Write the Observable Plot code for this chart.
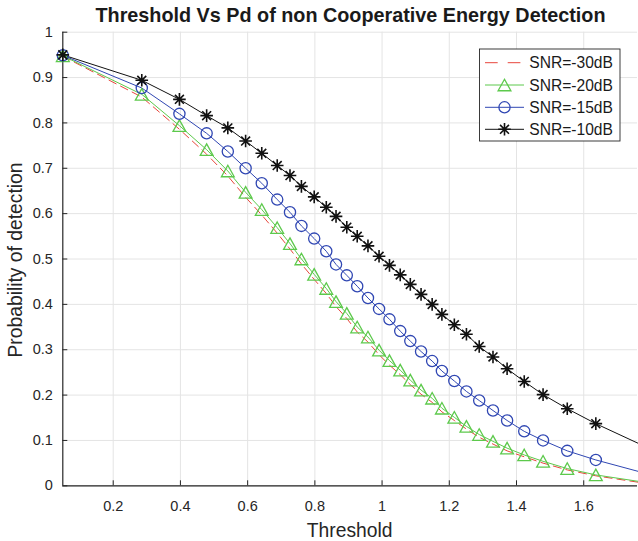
<!DOCTYPE html>
<html>
<head>
<meta charset="utf-8">
<script src="https://cdn.jsdelivr.net/npm/d3@7"></script>
<script src="https://cdn.jsdelivr.net/npm/@observablehq/plot@0.6"></script>
<style>
  html, body { margin: 0; padding: 0; background: white; }
  #chart svg { display: block; }
</style>
</head>
<body>
<div id="chart"></div>
<script>
// ---- data ----
const titleText = "Threshold Vs Pd of non Cooperative Energy Detection";
const xLabel = "Threshold";
const yLabel = "Probability of detection";

const thresholds = [0.05, 0.285, 0.397, 0.478, 0.541, 0.594, 0.642, 0.688, 0.726, 0.760, 0.798, 0.834, 0.863, 0.895, 0.926, 0.958, 0.991, 1.022, 1.054, 1.084, 1.116, 1.149, 1.178, 1.215, 1.251, 1.289, 1.330, 1.372, 1.423, 1.479, 1.551, 1.636, 1.761];

const pdSnr30 = [0.947, 0.857, 0.786, 0.731, 0.683, 0.636, 0.597, 0.557, 0.522, 0.489, 0.455, 0.424, 0.395, 0.369, 0.339, 0.317, 0.289, 0.266, 0.245, 0.223, 0.202, 0.184, 0.163, 0.144, 0.125, 0.107, 0.092, 0.077, 0.064, 0.050, 0.035, 0.022, 0.008];
const pdSnr20 = [0.948, 0.863, 0.794, 0.741, 0.694, 0.647, 0.609, 0.569, 0.534, 0.500, 0.466, 0.435, 0.406, 0.380, 0.350, 0.328, 0.299, 0.276, 0.255, 0.233, 0.211, 0.193, 0.171, 0.151, 0.131, 0.113, 0.098, 0.083, 0.068, 0.054, 0.038, 0.024, 0.010];
const pdSnr15 = [0.949, 0.877, 0.820, 0.777, 0.737, 0.700, 0.667, 0.631, 0.603, 0.573, 0.545, 0.517, 0.488, 0.464, 0.440, 0.414, 0.390, 0.367, 0.341, 0.319, 0.296, 0.275, 0.253, 0.231, 0.208, 0.188, 0.166, 0.144, 0.120, 0.100, 0.077, 0.057, 0.032];
const pdSnr10 = [0.950, 0.894, 0.852, 0.816, 0.789, 0.760, 0.733, 0.706, 0.684, 0.660, 0.637, 0.614, 0.594, 0.570, 0.550, 0.529, 0.506, 0.486, 0.465, 0.444, 0.422, 0.400, 0.378, 0.355, 0.334, 0.307, 0.284, 0.258, 0.230, 0.201, 0.170, 0.137, 0.094];

const seriesNames = ["SNR=-30dB", "SNR=-20dB", "SNR=-15dB", "SNR=-10dB"];
const seriesColors = ["#e8463c", "#5dc94c", "#3047b3", "#111111"];

const xDomain = [0.05, 1.76];
const yDomain = [0, 1];
const xTicks = [0.2, 0.4, 0.6, 0.8, 1.0, 1.2, 1.4, 1.6];
const xTickLabels = ["0.2", "0.4", "0.6", "0.8", "1", "1.2", "1.4", "1.6"];
const yTicks = [0, 0.1, 0.2, 0.3, 0.4, 0.5, 0.6, 0.7, 0.8, 0.9, 1.0];
const yTickLabels = ["0", "0.1", "0.2", "0.3", "0.4", "0.5", "0.6", "0.7", "0.8", "0.9", "1"];

// ---- build tables ----
const allSeries = [pdSnr30, pdSnr20, pdSnr15, pdSnr10];
const rows = [];
allSeries.forEach((vals, s) => {
  vals.forEach((v, i) => rows.push({series: seriesNames[s], x: thresholds[i], y: v, marker: i < thresholds.length - 1}));
});
const bySeries = name => rows.filter(d => d.series === name);
const markersOf = name => rows.filter(d => d.series === name && d.marker);

// custom symbols
const asterisk8 = {
  draw(ctx, size) {
    const r = Math.sqrt(size / Math.PI);
    const d = r * Math.SQRT1_2;
    ctx.moveTo(0, -r); ctx.lineTo(0, r);
    ctx.moveTo(-r, 0); ctx.lineTo(r, 0);
    ctx.moveTo(-d, -d); ctx.lineTo(d, d);
    ctx.moveTo(-d, d); ctx.lineTo(d, -d);
  }
};
const triangleUp = {
  draw(ctx, size) {
    const r = Math.sqrt(size / Math.PI);
    const h = r * 0.9;
    ctx.moveTo(0, -h); ctx.lineTo(r, h); ctx.lineTo(-r, h); ctx.closePath();
  }
};

const W = 638, H = 541;
const mL = 62.3, mR = 1, mT = 31.7, mB = 55.7;
const frameW = W - mL - mR, frameH = H - mT - mB;
const axisColor = "#262626";
const gridColor = "#e4e4e4";
const font = "'Liberation Sans', Arial, sans-serif";

const fmtX = d => xTickLabels[xTicks.findIndex(t => Math.abs(t - d) < 1e-9)];
const fmtY = d => yTickLabels[yTicks.findIndex(t => Math.abs(t - d) < 1e-9)];

const chart = Plot.plot({
  width: W, height: H,
  marginLeft: mL, marginRight: mR, marginTop: mT, marginBottom: mB,
  style: {fontFamily: font, fontSize: "14.5px", color: axisColor, background: "white", overflow: "visible"},
  x: {domain: xDomain},
  y: {domain: yDomain},
  marks: [
    Plot.gridX(xTicks, {stroke: gridColor, strokeOpacity: 1}),
    Plot.gridY(yTicks, {stroke: gridColor, strokeOpacity: 1}),
    Plot.ruleX([xDomain[0]], {stroke: axisColor, strokeWidth: 1.2}),
    Plot.ruleY([yDomain[0]], {stroke: axisColor, strokeWidth: 1.2}),
    Plot.tickX(xTicks, {x: d => d, insetTop: frameH - 5, stroke: axisColor}),
    Plot.tickY(yTicks, {y: d => d, insetRight: frameW - 5, stroke: axisColor}),
    Plot.axisX(xTicks, {tickSize: 0, tickPadding: 15, label: null, tickFormat: fmtX, fill: axisColor, fontSize: 14.5}),
    Plot.axisY(yTicks, {tickSize: 0, tickPadding: 10, label: null, tickFormat: fmtY, fill: axisColor, fontSize: 14.5}),
    // lines
    Plot.line(bySeries(seriesNames[0]), {x: "x", y: "y", stroke: seriesColors[0], strokeWidth: 1, strokeDasharray: "8,5"}),
    Plot.line(bySeries(seriesNames[1]), {x: "x", y: "y", stroke: seriesColors[1], strokeWidth: 1}),
    Plot.line(bySeries(seriesNames[2]), {x: "x", y: "y", stroke: seriesColors[2], strokeWidth: 1}),
    Plot.line(bySeries(seriesNames[3]), {x: "x", y: "y", stroke: seriesColors[3], strokeWidth: 1}),
    // markers
    Plot.dot(markersOf(seriesNames[1]), {x: "x", y: "y", symbol: triangleUp, r: 6.4, stroke: seriesColors[1], fill: "none", strokeWidth: 1.3}),
    Plot.dot(markersOf(seriesNames[2]), {x: "x", y: "y", symbol: "circle", r: 5.6, stroke: seriesColors[2], fill: "none", strokeWidth: 1.3}),
    Plot.dot(markersOf(seriesNames[3]), {x: "x", y: "y", symbol: asterisk8, r: 6.3, stroke: seriesColors[3], fill: "none", strokeWidth: 1.6})
  ]
});

document.getElementById("chart").appendChild(chart);

// ---- title, axis labels, legend ----
const svg = d3.select(chart);
// enforce tick label font size on every text Plot drew (only tick labels exist at this point)
svg.selectAll("text")
  .attr("font-size", 14.5)
  .style("font-size", "14.5px")
  .style("font-family", font);

svg.append("text")
  .attr("x", 350.5).attr("y", 22.3)
  .attr("text-anchor", "middle")
  .attr("font-family", font).attr("font-size", 19.8).attr("font-weight", "bold")
  .attr("fill", "#1a1a1a")
  .text(titleText);
svg.append("text")
  .attr("x", 349.7).attr("y", 536.7)
  .attr("text-anchor", "middle")
  .attr("font-family", font).attr("font-size", 19.3)
  .attr("fill", axisColor)
  .text(xLabel);
svg.append("text")
  .attr("transform", "translate(22,260) rotate(-90)")
  .attr("text-anchor", "middle")
  .attr("font-family", font).attr("font-size", 19.3)
  .attr("fill", axisColor)
  .text(yLabel);

const lg = svg.append("g");
lg.append("rect")
  .attr("x", 479.5).attr("y", 49).attr("width", 140.5).attr("height", 92)
  .attr("fill", "white").attr("stroke", axisColor).attr("stroke-width", 0.9);
const rowY = [62.7, 85, 107.3, 129.3];
const symbols = [null, triangleUp, d3.symbolCircle, asterisk8];
const symR = [0, 6.4, 5.6, 6.3];
const symW = [0, 1.3, 1.3, 1.6];
seriesNames.forEach((name, i) => {
  const y = rowY[i];
  const line = lg.append("line")
    .attr("x1", 485).attr("x2", 524).attr("y1", y).attr("y2", y)
    .attr("stroke", seriesColors[i]).attr("stroke-width", 1);
  if (i === 0) line.attr("stroke-dasharray", "12.7,10");
  if (symbols[i]) {
    lg.append("path")
      .attr("transform", `translate(504.5,${y})`)
      .attr("d", d3.symbol(symbols[i], Math.PI * symR[i] * symR[i])())
      .attr("fill", "none").attr("stroke", seriesColors[i]).attr("stroke-width", symW[i]);
  }
  lg.append("text")
    .attr("x", 529.3).attr("y", y).attr("dy", "0.36em")
    .attr("text-anchor", "start")
    .attr("font-family", font).attr("font-size", 15.6)
    .attr("fill", "#1a1a1a")
    .text(name);
});
</script>
</body>
</html>
